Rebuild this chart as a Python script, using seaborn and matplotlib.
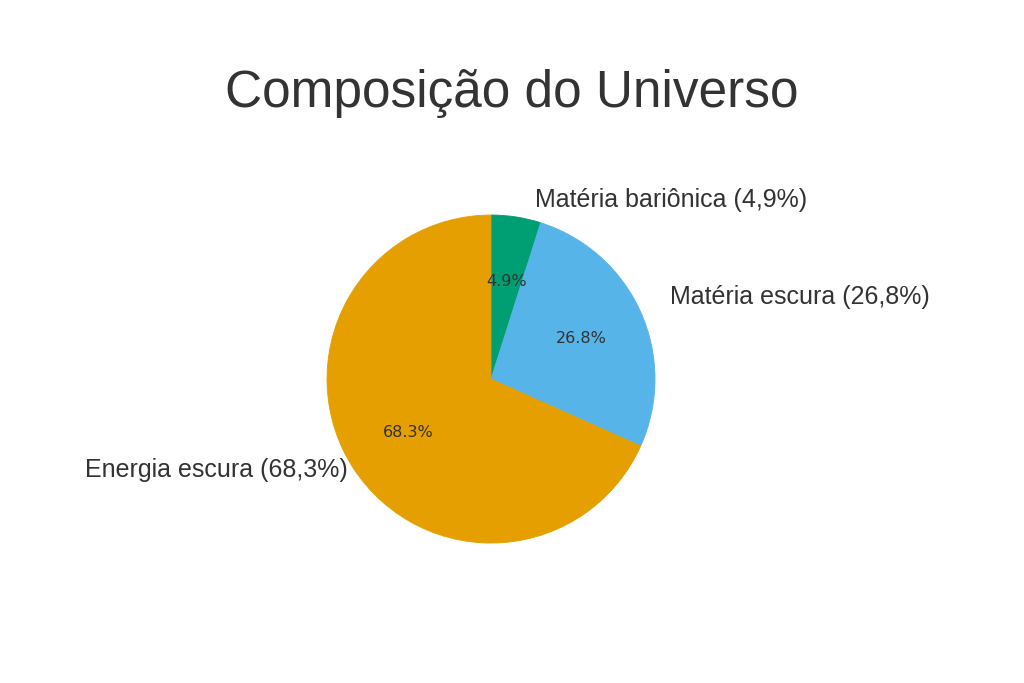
import numpy as np
import matplotlib
matplotlib.use("Agg")
import matplotlib.pyplot as plt
import seaborn as sns

# dados
componentes = ['Matéria bariônica', 'Matéria escura', 'Energia escura']
percentuais = [4.9, 26.8, 68.3]
cores_hex = ['#009E73', '#56B4E9', '#E69F00']

# posicao dos rotulos (coordenadas do eixo do pie, raio = 1)
pos_rotulos = [(0.268, 1.09), (1.091, 0.50), (-0.872, -0.555)]

sns.set_theme(style="white")
plt.rcParams['font.family'] = ['Liberation Sans', 'DejaVu Sans']

cores = sns.color_palette(cores_hex)
rotulos = [f"{c} ({str(p).replace('.', ',')}%)" for c, p in zip(componentes, percentuais)]

fig = plt.figure(figsize=(10.24, 6.83), dpi=100)
ax = fig.add_axes([0.2793, 0.1449, 0.4004, 0.6003])

wedges, textos, autotextos = ax.pie(percentuais, labels=rotulos, colors=cores,
                                    startangle=90, counterclock=False,
                                    autopct='%1.1f%%', labeldistance=1.15,
                                    textprops={'fontsize': 18, 'color': '#333333'})
# sem borda branca entre as fatias
for w, c in zip(wedges, cores):
    w.set_edgecolor(c)
    w.set_linewidth(0.6)
for t, p in zip(textos, pos_rotulos):
    t.set_position(p)
for t in autotextos:
    t.set_fontsize(11.5)
    t.set_family('DejaVu Sans')
    t.set_color('#333333')

fig.text(0.5, 1 - 94 / 683, 'Composição do Universo', ha='center', va='center',
         fontsize=37, color='#333333')

fig.savefig('out.png', dpi=100, facecolor='white')
